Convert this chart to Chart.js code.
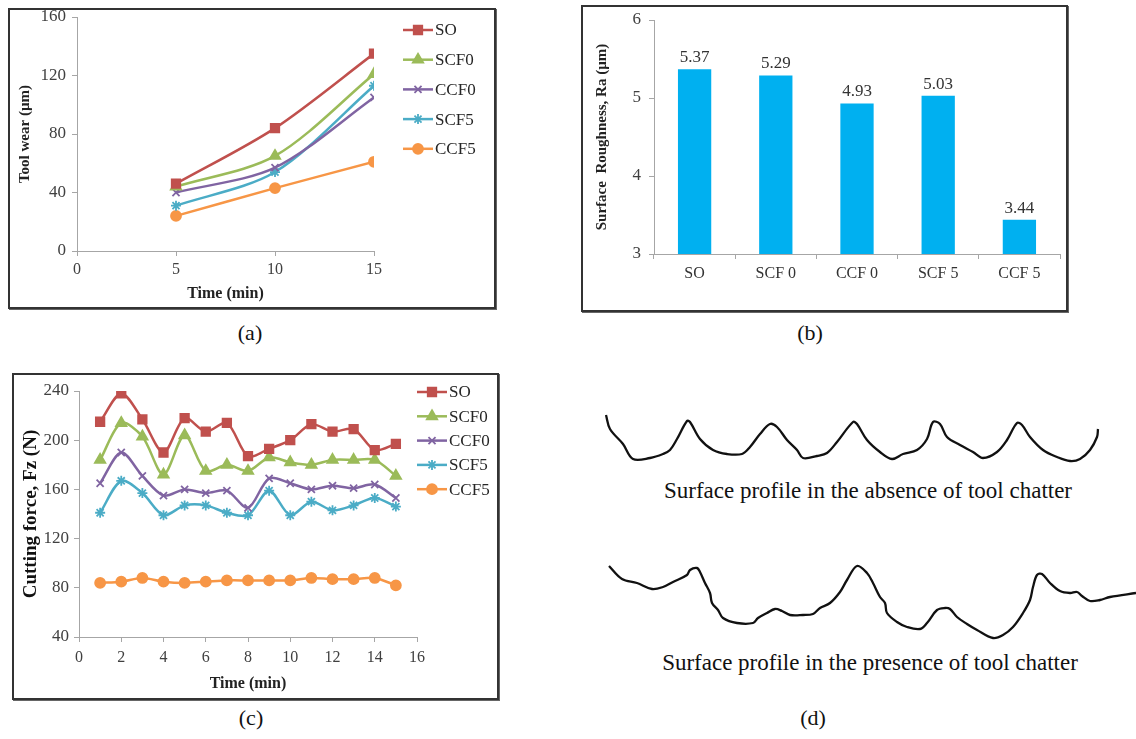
<!DOCTYPE html>
<html>
<head>
<meta charset="utf-8">
<title>Tool wear, surface roughness, cutting force and surface profiles</title>
<script src="https://cdn.jsdelivr.net/npm/chart.js"></script>
<style>
    html, body { margin: 0; padding: 0; background: #fff; }
    body {
        position: relative;
        width: 1136px;
        height: 739px;
        overflow: hidden;
        font-family: "Liberation Serif", "Times New Roman", serif;
        color: #111;
    }
    canvas { position: absolute; }
    .frame {
        position: absolute;
        box-sizing: border-box;
        border: 2px solid #333;
        box-shadow: 1px 1px 0 #666;
        pointer-events: none;
    }
    .caption {
        position: absolute;
        transform: translate(-50%, -50%);
        white-space: nowrap;
        font-size: 22px;
    }
    .profile-note { font-size: 23px; }
</style>
</head>
<body>

<canvas id="chart-wear" width="488" height="301" style="left:8px;top:8px"></canvas>
<div class="frame" style="left:8px;top:8px;width:488px;height:301px"></div>

<canvas id="chart-rough" width="487" height="307" style="left:581px;top:5px"></canvas>
<div class="frame" style="left:581px;top:5px;width:487px;height:307px"></div>

<canvas id="chart-force" width="487" height="327" style="left:12px;top:373px"></canvas>
<div class="frame" style="left:12px;top:373px;width:487px;height:327px"></div>

<canvas id="chart-profile-abs" width="546" height="55" style="left:590px;top:410px"></canvas>
<canvas id="chart-profile-pres" width="546" height="85" style="left:590px;top:560px"></canvas>

<div class="caption profile-note" style="left:868px;top:491px">Surface profile in the absence of tool chatter</div>
<div class="caption profile-note" style="left:870px;top:663px">Surface profile in the presence of tool chatter</div>

<div class="caption" style="left:250px;top:333px">(a)</div>
<div class="caption" style="left:810px;top:333px">(b)</div>
<div class="caption" style="left:251px;top:718px">(c)</div>
<div class="caption" style="left:813px;top:718px">(d)</div>

<script>
(function() {
    'use strict';

    // Series shared by (a) and (c)
    var seriesNames = ['SO', 'SCF0', 'CCF0', 'SCF5', 'CCF5'];
    var seriesColors = ['#C0504D', '#9BBB59', '#8064A2', '#4BACC6', '#F79646'];
    var seriesMarkers = ['rect', 'triangle', 'crossRot', 'star', 'circle'];
    var seriesMarkerSizes = [6, 6, 5, 5, 5];

    // (a) Tool wear (um) vs time (min)
    var wearTime = [5, 10, 15];
    var wearSO = [46, 84, 135];
    var wearSCF0 = [44, 65, 121];
    var wearCCF0 = [40, 57, 105];
    var wearSCF5 = [31, 54, 113];
    var wearCCF5 = [24, 43, 61];
    var wearXTicks = [0, 5, 10, 15];
    var wearYTicks = [0, 40, 80, 120, 160];

    // (b) Surface roughness Ra (um)
    var roughLabels = ['SO', 'SCF 0', 'CCF 0', 'SCF 5', 'CCF 5'];
    var roughValues = [5.37, 5.29, 4.93, 5.03, 3.44];
    var roughYTicks = [3, 4, 5, 6];

    // (c) Cutting force Fz (N) vs time (min)
    var forceTime = [1, 2, 3, 4, 5, 6, 7, 8, 9, 10, 11, 12, 13, 14, 15];
    var forceSO = [215, 238, 217, 190, 218, 207, 214, 187, 193, 200, 213, 207, 209, 192, 197];
    var forceSCF0 = [184, 214, 203, 172, 204, 175, 180, 175, 186, 182, 180, 184, 184, 184, 171];
    var forceCCF0 = [165, 190, 171, 155, 160, 157, 159, 145, 169, 165, 160, 163, 161, 164, 153];
    var forceSCF5 = [141, 167, 157, 139, 147, 147, 141, 139, 159, 139, 150, 143, 147, 153, 146];
    var forceCCF5 = [84, 85, 88, 85, 84, 85, 86, 86, 86, 86, 88, 87, 87, 88, 82];
    var forceXTicks = [0, 2, 4, 6, 8, 10, 12, 14, 16];
    var forceYTicks = [40, 80, 120, 160, 200, 240];

    // (d) Surface profiles: distance along surface and profile height
    var absDistance = [16, 20, 33, 43, 60, 73, 80, 87, 97, 100, 110, 123, 137, 152, 160, 170, 180, 187,
        197, 207, 213, 227, 237, 247, 263, 267, 277, 290, 302, 313, 327, 337, 343, 350, 357, 370,
        383, 393, 407, 417, 427, 432, 440, 453, 467, 480, 490, 500, 507, 508];
    var absHeight = [47, 33, 18, 3, 4, 8, 12, 23, 41, 40, 23, 12, 8, 8, 15, 28, 38, 35,
        22, 12, 4, 6, 9, 20, 40, 38, 22, 10, 3, 8, 12, 23, 40, 38, 25, 17,
        10, 4, 10, 22, 39, 37, 25, 12, 5, 1, 3, 12, 25, 33];
    var presDistance = [19, 32, 47, 62, 73, 83, 97, 100, 107, 110, 115, 120, 122, 128, 133, 147, 163, 168,
        177, 185, 192, 200, 213, 223, 230, 240, 250, 257, 267, 277, 283, 290, 295, 297, 307, 317,
        330, 337, 347, 355, 360, 367, 377, 387, 403, 413, 423, 433, 440, 443, 447, 452, 460, 470,
        480, 487, 492, 500, 510, 520, 546];
    var presHeight = [74, 61, 57, 51, 53, 58, 65, 70, 72, 68, 57, 47, 37, 30, 22, 17, 17, 22,
        27, 31, 29, 25, 25, 26, 32, 37, 48, 60, 74, 67, 57, 43, 37, 27, 18, 13,
        11, 17, 30, 32, 31, 23, 16, 10, 2, 5, 13, 27, 40, 53, 65, 66, 57, 49,
        47, 48, 44, 39, 40, 43, 47];

    var SERIF = '"Liberation Serif", "Times New Roman", serif';
    var AXIS_GREY = '#a6a6a6';
    var TICK_TEXT = '#404040';

    Chart.defaults.font.family = SERIF;
    Chart.defaults.color = TICK_TEXT;
    Chart.defaults.animation = false;

    /**
     * Legend drawn as a line with its marker, like the spreadsheet legends
     */
    var lineLegend = {
        id: 'lineLegend',
        afterDraw: function(chart, args, opts) {
            var ctx = chart.ctx;
            ctx.save();
            chart.data.datasets.forEach(function(ds, i) {
                var x = opts.left;
                var y = opts.top + i * opts.spacing;
                ctx.strokeStyle = ds.borderColor;
                ctx.lineWidth = ds.borderWidth;
                ctx.beginPath();
                ctx.moveTo(x, y);
                ctx.lineTo(x + opts.lineLength, y);
                ctx.stroke();

                ctx.fillStyle = ds.pointBackgroundColor;
                ctx.strokeStyle = ds.pointBorderColor;
                ctx.lineWidth = ds.pointBorderWidth;
                Chart.helpers.drawPoint(ctx, {
                    pointStyle: ds.pointStyle,
                    radius: ds.pointRadius,
                    rotation: 0,
                    borderWidth: ds.pointBorderWidth
                }, x + opts.lineLength / 2, y);

                ctx.fillStyle = '#262626';
                ctx.font = opts.fontSize + 'px ' + SERIF;
                ctx.textAlign = 'left';
                ctx.textBaseline = 'middle';
                ctx.fillText(ds.label, x + opts.lineLength + 2, y + 1);
            });
            ctx.restore();
        }
    };

    /**
     * Value labels above the bars
     */
    var barValueLabels = {
        id: 'barValueLabels',
        afterDatasetsDraw: function(chart, args, opts) {
            var ctx = chart.ctx;
            var values = chart.data.datasets[0].data;
            ctx.save();
            ctx.fillStyle = '#333';
            ctx.font = opts.fontSize + 'px ' + SERIF;
            ctx.textAlign = 'center';
            ctx.textBaseline = 'bottom';
            chart.getDatasetMeta(0).data.forEach(function(bar, i) {
                ctx.fillText(values[i].toFixed(2), bar.x, bar.y - opts.offset);
            });
            ctx.restore();
        }
    };

    function toPoints(xs, ys) {
        return xs.map(function(x, i) { return { x: x, y: ys[i] }; });
    }

    function seriesDatasets(xs, lists, width) {
        return lists.map(function(ys, i) {
            return {
                label: seriesNames[i],
                data: toPoints(xs, ys),
                borderColor: seriesColors[i],
                backgroundColor: seriesColors[i],
                borderWidth: width,
                pointStyle: seriesMarkers[i],
                pointRadius: seriesMarkerSizes[i],
                pointBackgroundColor: seriesColors[i],
                pointBorderColor: seriesColors[i],
                pointBorderWidth: 1.8,
                tension: 0.3
            };
        });
    }

    function fixedTicks(list) {
        return function(scale) {
            scale.ticks = list.map(function(v) { return { value: v }; });
        };
    }

    // fixed axis sizes, so the plot area lands where the layout padding says
    function fixWidth(w) {
        return function(scale) {
            scale.width = w;
            scale.paddingTop = 0;
            scale.paddingBottom = 0;
        };
    }

    function fixHeight(h) {
        return function(scale) {
            scale.height = h;
            scale.paddingLeft = 0;
            scale.paddingRight = 0;
        };
    }

    function axisGrid() {
        return { display: true, drawOnChartArea: false, drawTicks: true, tickLength: 5, color: AXIS_GREY };
    }

    /**
     * (a) Tool wear
     */
    function initWearChart() {
        new Chart(document.getElementById('chart-wear'), {
            type: 'line',
            data: {
                datasets: seriesDatasets(wearTime, [wearSO, wearSCF0, wearCCF0, wearSCF5, wearCCF5], 2.5)
            },
            options: {
                responsive: false,
                layout: { padding: { left: 4, top: 9, right: 122, bottom: 6 } },
                plugins: {
                    legend: { display: false },
                    tooltip: { enabled: false },
                    lineLegend: { left: 395, top: 22, spacing: 29.7, lineLength: 30, fontSize: 17 }
                },
                scales: {
                    x: {
                        type: 'linear',
                        min: 0,
                        max: 15,
                        afterBuildTicks: fixedTicks(wearXTicks),
                        afterFit: fixHeight(52),
                        grid: axisGrid(),
                        border: { color: AXIS_GREY },
                        ticks: { font: { size: 16 }, padding: 4 },
                        title: { display: true, text: 'Time (min)', color: '#222', font: { size: 16, weight: 'bold' }, padding: 0 }
                    },
                    y: {
                        min: 0,
                        max: 160,
                        afterBuildTicks: fixedTicks(wearYTicks),
                        afterFit: fixWidth(65),
                        grid: axisGrid(),
                        border: { color: AXIS_GREY },
                        ticks: { font: { size: 17 }, padding: 6 },
                        title: { display: true, text: 'Tool wear (µm)', color: '#222', font: { size: 15, weight: 'bold' }, padding: 4 }
                    }
                }
            },
            plugins: [lineLegend]
        });
    }

    /**
     * (b) Surface roughness
     */
    function initRoughChart() {
        new Chart(document.getElementById('chart-rough'), {
            type: 'bar',
            data: {
                labels: roughLabels,
                datasets: [{
                    data: roughValues,
                    backgroundColor: '#00B0F0',
                    borderWidth: 0,
                    categoryPercentage: 1,
                    barPercentage: 0.41
                }]
            },
            options: {
                responsive: false,
                layout: { padding: { left: 8, top: 15, right: 8, bottom: 8 } },
                plugins: {
                    legend: { display: false },
                    tooltip: { enabled: false },
                    barValueLabels: { offset: 3, fontSize: 17 }
                },
                scales: {
                    x: {
                        afterFit: fixHeight(50),
                        grid: axisGrid(),
                        border: { color: AXIS_GREY },
                        ticks: { font: { size: 16 }, color: '#333', padding: 5 }
                    },
                    y: {
                        min: 3,
                        max: 6,
                        afterBuildTicks: fixedTicks(roughYTicks),
                        afterFit: fixWidth(65),
                        grid: axisGrid(),
                        border: { color: AXIS_GREY },
                        ticks: { font: { size: 17 }, padding: 8 },
                        title: { display: true, text: 'Surface  Roughness, Ra (µm)', color: '#222', font: { size: 15, weight: 'bold' }, padding: 4 }
                    }
                }
            },
            plugins: [barValueLabels]
        });
    }

    /**
     * (c) Cutting force
     */
    function initForceChart() {
        new Chart(document.getElementById('chart-force'), {
            type: 'line',
            data: {
                datasets: seriesDatasets(forceTime, [forceSO, forceSCF0, forceCCF0, forceSCF5, forceCCF5], 2.5)
            },
            options: {
                responsive: false,
                layout: { padding: { left: 5, top: 18, right: 82, bottom: 7 } },
                plugins: {
                    legend: { display: false },
                    tooltip: { enabled: false },
                    lineLegend: { left: 405, top: 19, spacing: 24.3, lineLength: 30, fontSize: 17 }
                },
                scales: {
                    x: {
                        type: 'linear',
                        min: 0,
                        max: 16,
                        afterBuildTicks: fixedTicks(forceXTicks),
                        afterFit: fixHeight(56),
                        grid: axisGrid(),
                        border: { color: AXIS_GREY },
                        ticks: { font: { size: 16 }, padding: 6 },
                        title: { display: true, text: 'Time (min)', color: '#222', font: { size: 16, weight: 'bold' }, padding: 0 }
                    },
                    y: {
                        min: 40,
                        max: 240,
                        afterBuildTicks: fixedTicks(forceYTicks),
                        afterFit: fixWidth(62),
                        grid: axisGrid(),
                        border: { color: AXIS_GREY },
                        ticks: { font: { size: 17 }, padding: 5 },
                        title: { display: true, text: 'Cutting force, Fz (N)', color: '#111', font: { size: 19, weight: 'bold' }, padding: 3 }
                    }
                }
            },
            plugins: [lineLegend]
        });
    }

    /**
     * (d) Surface profile traces
     */
    function initProfile(id, xs, ys, yMin, yMax) {
        new Chart(document.getElementById(id), {
            type: 'line',
            data: {
                datasets: [{
                    data: toPoints(xs, ys),
                    borderColor: '#111',
                    borderWidth: 2.3,
                    pointRadius: 0,
                    tension: 0.35,
                    clip: false
                }]
            },
            options: {
                responsive: false,
                layout: { padding: 0 },
                plugins: { legend: { display: false }, tooltip: { enabled: false } },
                scales: {
                    x: { type: 'linear', min: 0, max: 546, display: false },
                    y: { min: yMin, max: yMax, display: false }
                }
            }
        });
    }

    // Initialize
    initWearChart();
    initRoughChart();
    initForceChart();
    initProfile('chart-profile-abs', absDistance, absHeight, -3, 52);
    initProfile('chart-profile-pres', presDistance, presHeight, -5, 80);

})();
</script>
</body>
</html>
